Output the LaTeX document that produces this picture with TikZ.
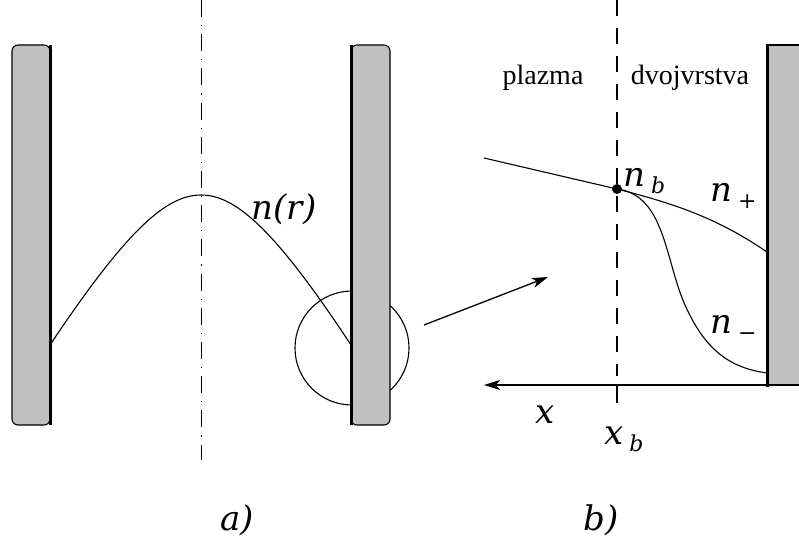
\RequirePackage{fix-cm}
\documentclass[tikz,border=0pt]{standalone}
\usepackage{fontspec}
\setmainfont{Liberation Serif}
\newfontfamily\labfont{DejaVu Serif}
\newcommand{\lsub}[1]{\,\raisebox{-7pt}{\fontsize{22}{24}\selectfont #1}}
\usetikzlibrary{arrows.meta}
\definecolor{wallgray}{HTML}{C0C0C0}

\begin{document}
\begin{tikzpicture}[x=1pt,y=-1pt,line width=1.1pt,
  wall/.style={draw=black,fill=wallgray,line width=1.1pt},
  rim/.style={line width=3pt},
  axisline/.style={dash pattern=on 17pt off 8pt on 1.2pt off 8pt,line width=1pt},
  bnd/.style={dash pattern=on 16pt off 12pt,line width=1.1pt},
  arr/.style={-{Stealth[length=16pt,width=10pt,inset=4pt]},line width=1.3pt},
  lab/.style={font=\labfont\itshape\fontsize{34}{38}\selectfont,inner sep=0pt},
  tlab/.style={font=\fontsize{28}{32}\selectfont,inner sep=0pt}]
\useasboundingbox (0,0) rectangle (799,543);
% (a) cilindar
\draw[axisline] (201,0) -- (201,460);
\draw (352,348) circle (57);
\coordinate (lw) at (50,345);
\coordinate (top) at (201,195);
\coordinate (rw) at (351,345);
\draw (lw) .. controls (128,228) and (167,195) .. (top)
           .. controls (235,195) and (274,228) .. (rw);
\draw[wall,rounded corners=6pt] (12,45) rectangle (50,425);
\draw[rim] (50,45) -- (50,425);
\draw[wall,rounded corners=6pt] (351,45) rectangle (390,425);
\draw[rim] (351,45) -- (351,425);
\node[lab] (nr) at (284,209) {n(r)};
\coordinate (zs) at (424,325);
\coordinate (ze) at (548,277);
\draw[arr] (zs) -- (ze);
% (b) uvecano
\draw[wall] (767,45) rectangle (801,385);
\draw[rim] (767,45) -- (767,386.5);
\draw[bnd] (617,0) -- (617,376);
\coordinate (tk) at (617,403);
\coordinate (ax) at (617,385);
\draw (ax) -- (tk);
\coordinate (ar) at (799,385);
\coordinate (al) at (484,385);
\draw[arr] (ar) -- (al);
\coordinate (pl) at (484,158);
\coordinate (nb) at (617,189);
\coordinate (wp) at (767,252);
\coordinate (wm) at (767,373);
\draw (pl) -- (nb);
\draw (nb) .. controls (680,205) and (720,220) .. (wp);
\draw (nb) .. controls (665,195) and (665,260) .. (685,305)
           .. controls (705,350) and (730,368) .. (wm);
\fill (nb) circle (5);
\node[tlab] (pz) at (543,78) {plazma};
\node[tlab] (dv) at (690,78) {dvojvrstva};
\node[lab,anchor=base west] (nbl) at (623,186) {n\lsub{b}};
\node[lab,anchor=base west] (npl) at (710,201) {n\lsub{+}};
\node[lab,anchor=base west] (nml) at (710,333) {n\lsub{−}};
\node[lab] (xl) at (545,415) {x};
\node[lab,anchor=base west] (xbl) at (604,444) {x\lsub{b}};
\node[lab] (la) at (237,520) {a)};
\node[lab] (lb) at (601,520) {b)};
\end{tikzpicture}
\end{document}
